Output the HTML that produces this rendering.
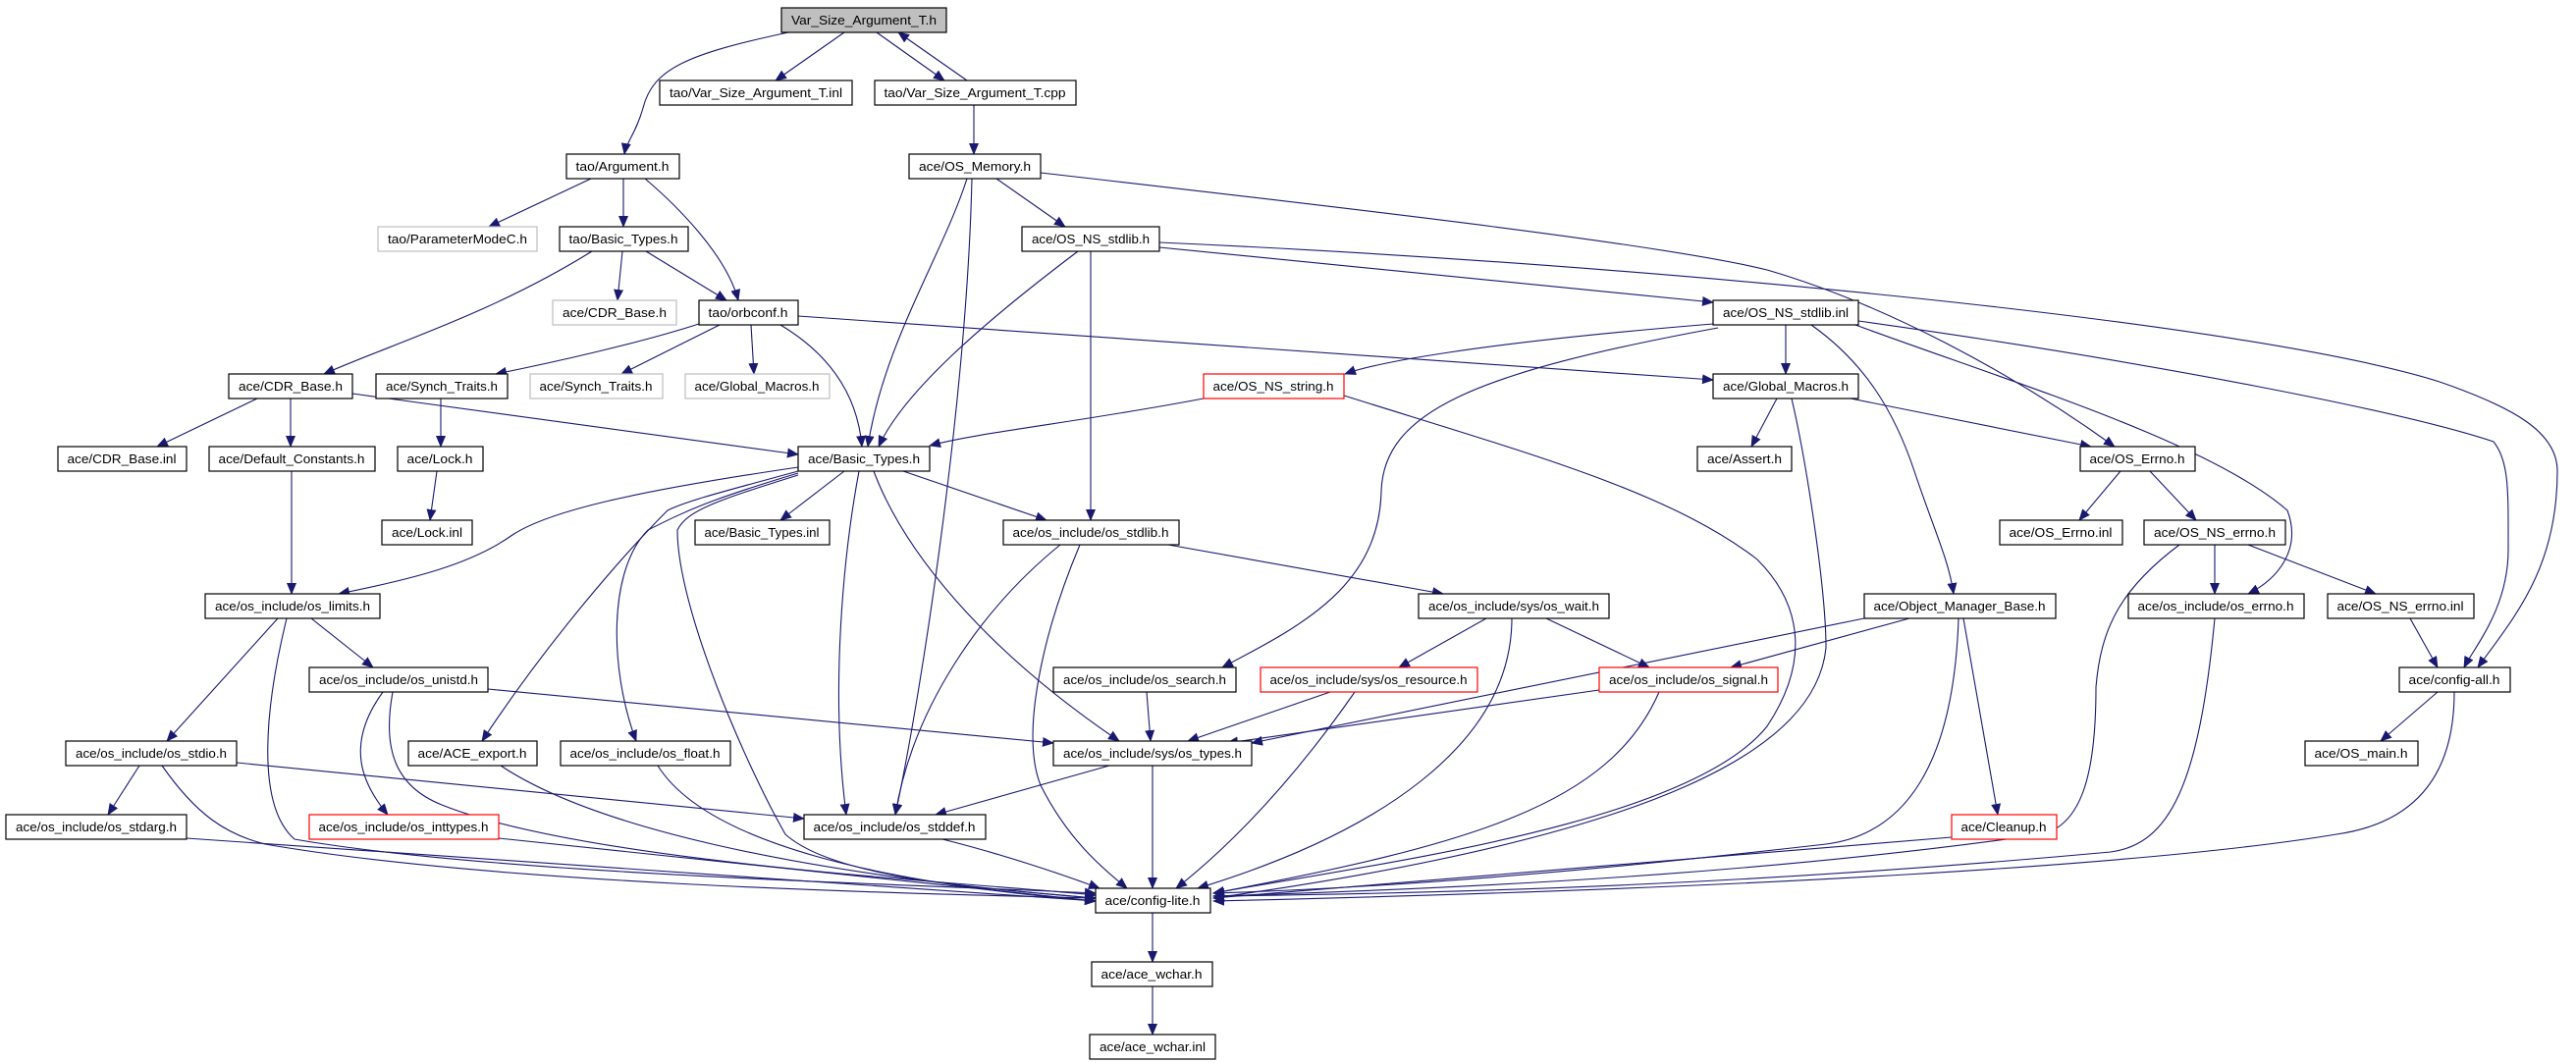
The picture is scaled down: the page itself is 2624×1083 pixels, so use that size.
<!DOCTYPE html>
<html><head><meta charset="utf-8"><style>
html,body{margin:0;padding:0;background:#fff;}
svg{display:block;}
text{font-family:"Liberation Sans",sans-serif;font-size:13px;fill:#000;}
.e{fill:none;stroke:#191970;stroke-width:1.1;marker-end:url(#ah);}
.n{fill:#fff;stroke:#000;stroke-width:1.2;}
.g{fill:#fff;stroke:#bfbfbf;stroke-width:1.2;}
.r{fill:#fff;stroke:#ff0000;stroke-width:1.2;}
</style></head><body>
<svg width="2624" height="1083" viewBox="0 0 2624 1083" xmlns="http://www.w3.org/2000/svg">
<defs><marker id="ah" markerUnits="userSpaceOnUse" markerWidth="12" markerHeight="10" refX="11" refY="5" orient="auto"><path d="M0,0 L12,5 L0,10 z" fill="#191970"/></marker></defs>
<g>
<path class="e" d="M803,33 C700,55 665,70 655,110 C648,135 638,145 636,157"/>
<path class="e" d="M860,33 L790,82"/>
<path class="e" d="M893,33 L962,82"/>
<path class="e" d="M985,82 L915,33"/>
<path class="e" d="M992,107 L992,157"/>
<path class="e" d="M602,182 L498,231"/>
<path class="e" d="M635,182 L635,231"/>
<path class="e" d="M657,182 C690,210 740,260 752,306"/>
<path class="e" d="M603,256 C500,320 400,350 330,381"/>
<path class="e" d="M634,256 L629,306"/>
<path class="e" d="M658,256 L740,306"/>
<path class="e" d="M985,182 C960,260 900,350 884,455"/>
<path class="e" d="M990,182 C985,400 940,700 912,830"/>
<path class="e" d="M1015,182 L1085,231"/>
<path class="e" d="M1060,176 C1400,215 1700,250 1800,275 C1920,310 2050,380 2154,455"/>
<path class="e" d="M1098,256 C1000,330 920,400 895,455"/>
<path class="e" d="M1111,256 L1111,530"/>
<path class="e" d="M1181,252 L1745,308"/>
<path class="e" d="M1181,247 C1700,270 2300,330 2485,389 C2560,415 2605,440 2605,480 C2605,580 2560,630 2524,680"/>
<path class="e" d="M712,330 C650,350 560,370 505,381"/>
<path class="e" d="M733,331 L633,381"/>
<path class="e" d="M765,331 L768,381"/>
<path class="e" d="M795,331 C860,370 875,420 878,455"/>
<path class="e" d="M813,322 L1745,387"/>
<path class="e" d="M1745,330 C1500,350 1400,370 1370,381"/>
<path class="e" d="M1819,331 L1819,381"/>
<path class="e" d="M1845,331 C1900,370 1930,420 1950,480 C1970,540 1985,570 1990,605"/>
<path class="e" d="M1750,334 C1500,380 1410,420 1407,500 C1405,600 1320,640 1245,680"/>
<path class="e" d="M1890,331 C2050,390 2250,450 2330,520 C2345,560 2320,590 2290,605"/>
<path class="e" d="M1893,327 C2200,370 2450,420 2540,450 C2556,470 2555,500 2555,560 C2555,620 2520,660 2510,680"/>
<path class="e" d="M262,406 L160,455"/>
<path class="e" d="M296,406 L296,455"/>
<path class="e" d="M359,401 L813,463"/>
<path class="e" d="M449,406 L449,455"/>
<path class="e" d="M445,480 L438,530"/>
<path class="e" d="M297,480 L297,605"/>
<path class="e" d="M1226,406 C1100,430 1000,440 947,454"/>
<path class="e" d="M1369,403 C1550,460 1700,500 1790,570 C1840,620 1840,680 1800,740 C1720,840 1400,880 1236,910"/>
<path class="e" d="M1825,406 C1840,470 1860,600 1860,660 C1850,760 1700,850 1236,915"/>
<path class="e" d="M1810,406 L1784,455"/>
<path class="e" d="M1885,406 L2130,455"/>
<path class="e" d="M813,476 C650,500 560,520 522,545 C480,575 420,590 345,605"/>
<path class="e" d="M860,480 L795,530"/>
<path class="e" d="M920,480 L1066,530"/>
<path class="e" d="M813,480 C740,500 700,510 680,520 C640,560 560,650 491,755"/>
<path class="e" d="M813,482 C720,510 700,520 660,540 C620,580 620,680 648,755"/>
<path class="e" d="M813,484 C730,510 700,520 690,540 C690,620 760,780 800,850 C850,895 1000,905 1116,915"/>
<path class="e" d="M875,480 C860,560 845,700 862,830"/>
<path class="e" d="M890,480 C920,560 1000,660 1140,755"/>
<path class="e" d="M1190,555 L1470,605"/>
<path class="e" d="M1080,555 C1000,620 930,720 912,830"/>
<path class="e" d="M1100,555 C1060,650 1040,750 1060,800 C1090,860 1130,890 1148,905"/>
<path class="e" d="M1514,630 L1425,680"/>
<path class="e" d="M1575,630 L1680,680"/>
<path class="e" d="M1540,630 C1540,760 1400,850 1220,905"/>
<path class="e" d="M283,630 L170,755"/>
<path class="e" d="M317,630 L380,680"/>
<path class="e" d="M292,630 C270,720 260,820 300,855 C500,890 900,900 1116,910"/>
<path class="e" d="M390,705 C350,760 370,800 395,830"/>
<path class="e" d="M497,702 L1073,757"/>
<path class="e" d="M400,705 C390,760 400,800 450,820 C600,880 1000,900 1116,912"/>
<path class="e" d="M142,780 L110,830"/>
<path class="e" d="M241,777 L819,834"/>
<path class="e" d="M165,780 C200,830 230,850 270,860 C500,900 900,910 1116,915"/>
<path class="e" d="M190,854 L1116,918"/>
<path class="e" d="M508,854 L1116,918"/>
<path class="e" d="M510,780 C600,840 800,890 1116,915"/>
<path class="e" d="M670,780 C720,860 900,900 1116,918"/>
<path class="e" d="M1168,705 L1172,755"/>
<path class="e" d="M1355,705 L1210,755"/>
<path class="e" d="M1380,705 C1300,820 1230,880 1198,905"/>
<path class="e" d="M1629,703 L1250,757"/>
<path class="e" d="M1690,705 C1640,820 1500,860 1236,910"/>
<path class="e" d="M1945,630 L1763,680"/>
<path class="e" d="M1899,630 C1700,670 1500,710 1275,757"/>
<path class="e" d="M2000,630 L2035,830"/>
<path class="e" d="M1995,630 C1990,780 1940,850 1860,860 C1600,890 1400,905 1236,910"/>
<path class="e" d="M2256,630 C2240,800 2210,860 2150,868 C1800,900 1500,910 1236,913"/>
<path class="e" d="M2455,630 L2483,680"/>
<path class="e" d="M2483,705 L2425,755"/>
<path class="e" d="M2500,705 C2500,800 2450,840 2380,850 C2200,880 1800,905 1236,918"/>
<path class="e" d="M1988,853 L1236,915"/>
<path class="e" d="M1130,780 L953,830"/>
<path class="e" d="M1174,780 L1174,905"/>
<path class="e" d="M960,855 C1020,870 1080,890 1120,905"/>
<path class="e" d="M1174,930 L1174,980"/>
<path class="e" d="M1174,1005 L1174,1054"/>
<path class="e" d="M2160,480 L2118,530"/>
<path class="e" d="M2190,480 L2237,530"/>
<path class="e" d="M2256,555 L2256,605"/>
<path class="e" d="M2290,555 L2420,605"/>
<path class="e" d="M2220,555 C2160,600 2140,640 2135,700 C2135,790 2120,840 2080,850 C1800,890 1500,905 1236,913"/>
</g>
<g>
<rect x="796" y="8" width="168" height="25" fill="#bfbfbf" stroke="#000" stroke-width="1.2"/><text x="880" y="25" text-anchor="middle" textLength="148" lengthAdjust="spacingAndGlyphs">Var_Size_Argument_T.h</text>
<rect class="n" x="672" y="82" width="196" height="25"/><text x="770" y="99" text-anchor="middle" textLength="176" lengthAdjust="spacingAndGlyphs">tao/Var_Size_Argument_T.inl</text>
<rect class="n" x="891" y="82" width="205" height="25"/><text x="993" y="99" text-anchor="middle" textLength="185" lengthAdjust="spacingAndGlyphs">tao/Var_Size_Argument_T.cpp</text>
<rect class="n" x="577" y="157" width="115" height="25"/><text x="634" y="174" text-anchor="middle" textLength="95" lengthAdjust="spacingAndGlyphs">tao/Argument.h</text>
<rect class="n" x="926" y="157" width="134" height="25"/><text x="993" y="174" text-anchor="middle" textLength="114" lengthAdjust="spacingAndGlyphs">ace/OS_Memory.h</text>
<rect class="g" x="385" y="231" width="162" height="25"/><text x="466" y="248" text-anchor="middle" textLength="142" lengthAdjust="spacingAndGlyphs">tao/ParameterModeC.h</text>
<rect class="n" x="570" y="231" width="131" height="25"/><text x="635" y="248" text-anchor="middle" textLength="111" lengthAdjust="spacingAndGlyphs">tao/Basic_Types.h</text>
<rect class="n" x="1041" y="231" width="140" height="25"/><text x="1111" y="248" text-anchor="middle" textLength="120" lengthAdjust="spacingAndGlyphs">ace/OS_NS_stdlib.h</text>
<rect class="g" x="563" y="306" width="126" height="25"/><text x="626" y="323" text-anchor="middle" textLength="106" lengthAdjust="spacingAndGlyphs">ace/CDR_Base.h</text>
<rect class="n" x="712" y="306" width="101" height="25"/><text x="762" y="323" text-anchor="middle" textLength="81" lengthAdjust="spacingAndGlyphs">tao/orbconf.h</text>
<rect class="n" x="1745" y="306" width="148" height="25"/><text x="1819" y="323" text-anchor="middle" textLength="128" lengthAdjust="spacingAndGlyphs">ace/OS_NS_stdlib.inl</text>
<rect class="n" x="233" y="381" width="126" height="25"/><text x="296" y="398" text-anchor="middle" textLength="106" lengthAdjust="spacingAndGlyphs">ace/CDR_Base.h</text>
<rect class="n" x="383" y="381" width="134" height="25"/><text x="450" y="398" text-anchor="middle" textLength="114" lengthAdjust="spacingAndGlyphs">ace/Synch_Traits.h</text>
<rect class="g" x="540" y="381" width="135" height="25"/><text x="607" y="398" text-anchor="middle" textLength="115" lengthAdjust="spacingAndGlyphs">ace/Synch_Traits.h</text>
<rect class="g" x="698" y="381" width="147" height="25"/><text x="771" y="398" text-anchor="middle" textLength="127" lengthAdjust="spacingAndGlyphs">ace/Global_Macros.h</text>
<rect class="r" x="1226" y="381" width="143" height="25"/><text x="1297" y="398" text-anchor="middle" textLength="123" lengthAdjust="spacingAndGlyphs">ace/OS_NS_string.h</text>
<rect class="n" x="1745" y="381" width="148" height="25"/><text x="1819" y="398" text-anchor="middle" textLength="128" lengthAdjust="spacingAndGlyphs">ace/Global_Macros.h</text>
<rect class="n" x="59" y="455" width="131" height="25"/><text x="124" y="472" text-anchor="middle" textLength="111" lengthAdjust="spacingAndGlyphs">ace/CDR_Base.inl</text>
<rect class="n" x="213" y="455" width="169" height="25"/><text x="297" y="472" text-anchor="middle" textLength="149" lengthAdjust="spacingAndGlyphs">ace/Default_Constants.h</text>
<rect class="n" x="405" y="455" width="87" height="25"/><text x="448" y="472" text-anchor="middle" textLength="67" lengthAdjust="spacingAndGlyphs">ace/Lock.h</text>
<rect class="n" x="813" y="455" width="134" height="25"/><text x="880" y="472" text-anchor="middle" textLength="114" lengthAdjust="spacingAndGlyphs">ace/Basic_Types.h</text>
<rect class="n" x="1729" y="455" width="96" height="25"/><text x="1777" y="472" text-anchor="middle" textLength="76" lengthAdjust="spacingAndGlyphs">ace/Assert.h</text>
<rect class="n" x="2119" y="455" width="117" height="25"/><text x="2177" y="472" text-anchor="middle" textLength="97" lengthAdjust="spacingAndGlyphs">ace/OS_Errno.h</text>
<rect class="n" x="389" y="530" width="92" height="25"/><text x="435" y="547" text-anchor="middle" textLength="72" lengthAdjust="spacingAndGlyphs">ace/Lock.inl</text>
<rect class="n" x="708" y="530" width="137" height="25"/><text x="776" y="547" text-anchor="middle" textLength="117" lengthAdjust="spacingAndGlyphs">ace/Basic_Types.inl</text>
<rect class="n" x="1022" y="530" width="179" height="25"/><text x="1111" y="547" text-anchor="middle" textLength="159" lengthAdjust="spacingAndGlyphs">ace/os_include/os_stdlib.h</text>
<rect class="n" x="2037" y="530" width="125" height="25"/><text x="2099" y="547" text-anchor="middle" textLength="105" lengthAdjust="spacingAndGlyphs">ace/OS_Errno.inl</text>
<rect class="n" x="2184" y="530" width="144" height="25"/><text x="2256" y="547" text-anchor="middle" textLength="124" lengthAdjust="spacingAndGlyphs">ace/OS_NS_errno.h</text>
<rect class="n" x="209" y="605" width="178" height="25"/><text x="298" y="622" text-anchor="middle" textLength="158" lengthAdjust="spacingAndGlyphs">ace/os_include/os_limits.h</text>
<rect class="n" x="1445" y="605" width="194" height="25"/><text x="1542" y="622" text-anchor="middle" textLength="174" lengthAdjust="spacingAndGlyphs">ace/os_include/sys/os_wait.h</text>
<rect class="n" x="1899" y="605" width="195" height="25"/><text x="1996" y="622" text-anchor="middle" textLength="175" lengthAdjust="spacingAndGlyphs">ace/Object_Manager_Base.h</text>
<rect class="n" x="2168" y="605" width="179" height="25"/><text x="2257" y="622" text-anchor="middle" textLength="159" lengthAdjust="spacingAndGlyphs">ace/os_include/os_errno.h</text>
<rect class="n" x="2371" y="605" width="149" height="25"/><text x="2445" y="622" text-anchor="middle" textLength="129" lengthAdjust="spacingAndGlyphs">ace/OS_NS_errno.inl</text>
<rect class="n" x="315" y="680" width="182" height="25"/><text x="406" y="697" text-anchor="middle" textLength="162" lengthAdjust="spacingAndGlyphs">ace/os_include/os_unistd.h</text>
<rect class="n" x="1073" y="680" width="186" height="25"/><text x="1166" y="697" text-anchor="middle" textLength="166" lengthAdjust="spacingAndGlyphs">ace/os_include/os_search.h</text>
<rect class="r" x="1284" y="680" width="221" height="25"/><text x="1394" y="697" text-anchor="middle" textLength="201" lengthAdjust="spacingAndGlyphs">ace/os_include/sys/os_resource.h</text>
<rect class="r" x="1629" y="680" width="182" height="25"/><text x="1720" y="697" text-anchor="middle" textLength="162" lengthAdjust="spacingAndGlyphs">ace/os_include/os_signal.h</text>
<rect class="n" x="2444" y="680" width="113" height="25"/><text x="2500" y="697" text-anchor="middle" textLength="93" lengthAdjust="spacingAndGlyphs">ace/config-all.h</text>
<rect class="n" x="67" y="755" width="174" height="25"/><text x="154" y="772" text-anchor="middle" textLength="154" lengthAdjust="spacingAndGlyphs">ace/os_include/os_stdio.h</text>
<rect class="n" x="416" y="755" width="131" height="25"/><text x="481" y="772" text-anchor="middle" textLength="111" lengthAdjust="spacingAndGlyphs">ace/ACE_export.h</text>
<rect class="n" x="571" y="755" width="173" height="25"/><text x="657" y="772" text-anchor="middle" textLength="153" lengthAdjust="spacingAndGlyphs">ace/os_include/os_float.h</text>
<rect class="n" x="1073" y="755" width="202" height="25"/><text x="1174" y="772" text-anchor="middle" textLength="182" lengthAdjust="spacingAndGlyphs">ace/os_include/sys/os_types.h</text>
<rect class="n" x="2348" y="755" width="115" height="25"/><text x="2405" y="772" text-anchor="middle" textLength="95" lengthAdjust="spacingAndGlyphs">ace/OS_main.h</text>
<rect class="n" x="6" y="830" width="184" height="25"/><text x="98" y="847" text-anchor="middle" textLength="164" lengthAdjust="spacingAndGlyphs">ace/os_include/os_stdarg.h</text>
<rect class="r" x="315" y="830" width="193" height="25"/><text x="411" y="847" text-anchor="middle" textLength="173" lengthAdjust="spacingAndGlyphs">ace/os_include/os_inttypes.h</text>
<rect class="n" x="819" y="830" width="185" height="25"/><text x="911" y="847" text-anchor="middle" textLength="165" lengthAdjust="spacingAndGlyphs">ace/os_include/os_stddef.h</text>
<rect class="r" x="1988" y="830" width="107" height="25"/><text x="2041" y="847" text-anchor="middle" textLength="87" lengthAdjust="spacingAndGlyphs">ace/Cleanup.h</text>
<rect class="n" x="1116" y="905" width="117" height="25"/><text x="1174" y="922" text-anchor="middle" textLength="97" lengthAdjust="spacingAndGlyphs">ace/config-lite.h</text>
<rect class="n" x="1112" y="980" width="123" height="25"/><text x="1173" y="997" text-anchor="middle" textLength="103" lengthAdjust="spacingAndGlyphs">ace/ace_wchar.h</text>
<rect class="n" x="1110" y="1054" width="128" height="25"/><text x="1174" y="1071" text-anchor="middle" textLength="108" lengthAdjust="spacingAndGlyphs">ace/ace_wchar.inl</text>
</g>
</svg>
</body></html>
